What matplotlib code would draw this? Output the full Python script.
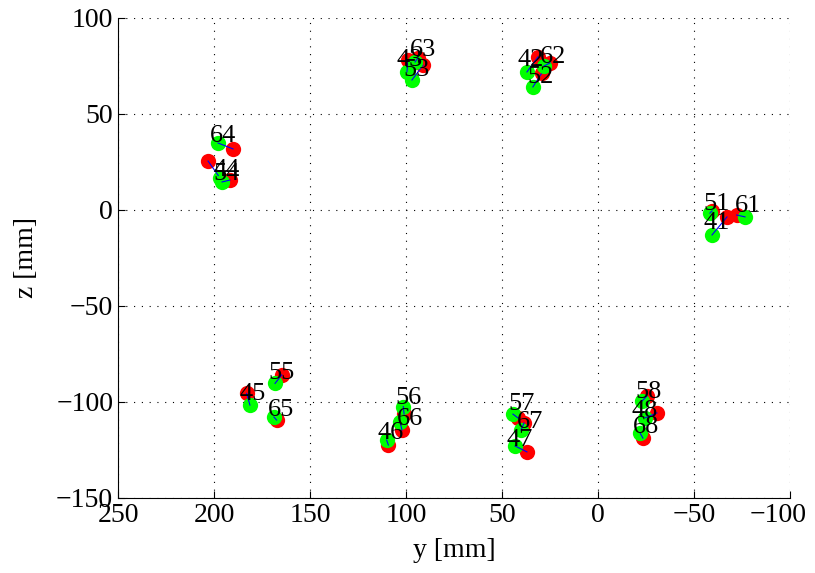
import matplotlib.pyplot as plt
from matplotlib.transforms import ScaledTranslation

plt.rcParams['font.family'] = ['Liberation Serif', 'DejaVu Serif']

labels = ['41', '42', '43', '44', '45', '46', '47', '48',
          '51', '52', '53', '54', '55', '56', '57', '58',
          '61', '62', '63', '64', '65', '66', '67', '68']

# measured (green) positions
green_y = [-59.4, 37.0, 99.5, 196.9, 181.3, 110.1, 43.2, -24.5,
           -58.3, 33.9, 96.9, 195.8, 168.2, 101.4, 44.3, -22.9,
           -76.6, 28.1, 95.3, 197.9, 168.8, 103.1, 40.1, -21.9]
green_z = [-13.0, 71.9, 71.9, 16.7, -101.6, -119.8, -122.9, -108.3,
           -1.6, 64.1, 67.7, 14.6, -90.3, -102.4, -106.3, -99.5,
           -3.6, 75.0, 77.1, 34.9, -107.8, -110.4, -114.6, -116.1]

# reference (red) positions
red_y = [-67.2, 31.3, 99.0, 203.1, 183.0, 109.2, 37.0, -30.7,
         -59.4, 29.2, 91.1, 191.7, 164.7, 101.0, 41.7, -25.5,
         -72.2, 25.0, 93.8, 190.1, 167.4, 102.1, 38.5, -23.4]
red_z = [-3.6, 79.7, 78.1, 25.5, -95.5, -122.4, -126.0, -105.7,
         -0.5, 71.4, 75.5, 15.6, -85.9, -106.3, -108.3, -96.9,
         -2.6, 76.6, 79.2, 31.8, -109.4, -114.6, -110.9, -118.8]

# label anchor positions
text_y = [-54.7, 41.7, 104.7, 200.5, 186.5, 115.1, 47.4, -17.7,
          -54.7, 37.0, 101.6, 200.5, 171.9, 105.7, 46.9, -19.3,
          -71.4, 30.2, 97.9, 202.1, 171.9, 104.7, 42.2, -18.2]
text_z = [-6.8, 78.1, 78.1, 21.0, -95.8, -116.1, -119.8, -104.7,
          3.1, 69.3, 72.9, 18.5, -84.9, -97.9, -101.0, -94.8,
          2.1, 79.7, 83.3, 38.5, -104.2, -108.9, -110.4, -113.0]

fig = plt.figure(figsize=(8.15, 5.73), dpi=100)
ax = fig.add_axes([0.1448, 0.1309, 0.8245, 0.8377])

for i in range(len(labels)):
    ax.plot(red_y[i], red_z[i], 'o', color='#ff0000', markersize=11, markeredgewidth=0)
    ax.plot(green_y[i], green_z[i], 'o', color='#00ff00', markersize=11, markeredgewidth=0)
    ax.plot([green_y[i], red_y[i]], [green_z[i], red_z[i]], color='#0000ff', linewidth=0.8)

for i in range(len(labels)):
    ax.text(text_y[i], text_z[i], labels[i], fontsize=19, ha='left', va='center', zorder=5)

ax.set_xlim(250, -100)
ax.set_ylim(-150, 100)
ax.set_xticks([250, 200, 150, 100, 50, 0, -50, -100])
ax.set_yticks([-150, -100, -50, 0, 50, 100])
ax.grid(True, linestyle=(0, (1, 6)), color='black', linewidth=0.8)
ax.spines['top'].set_visible(False)
ax.spines['right'].set_visible(False)
ax.tick_params(direction='in', labelsize=20, length=5)
ax.set_xlabel('y [mm]', fontsize=20, labelpad=7)
ax.set_ylabel('z [mm]', fontsize=20, labelpad=12)

# keep the last x tick label inside the figure
last = ax.get_xticklabels()[-1]
last.set_transform(last.get_transform() + ScaledTranslation(-0.12, 0, fig.dpi_scale_trans))

fig.savefig('out.png', dpi=100)
